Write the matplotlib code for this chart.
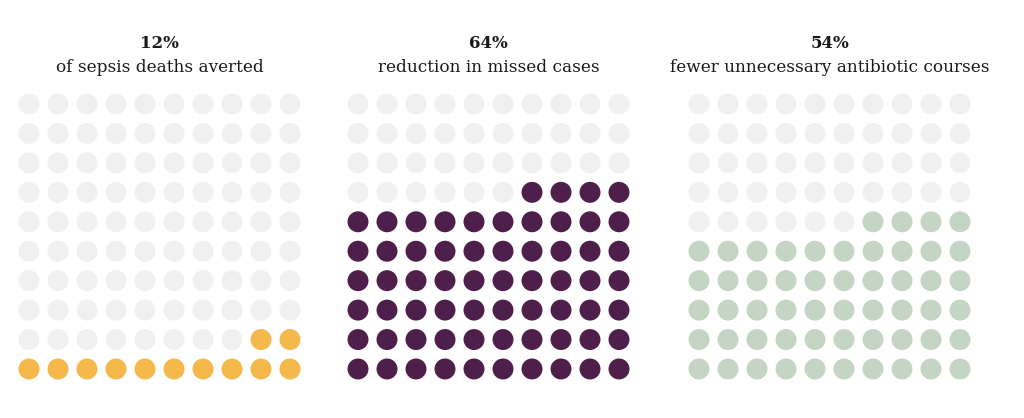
import numpy as np
import matplotlib.pyplot as plt

# waffle data
percents = [12, 64, 54]
titles = ["12%", "64%", "54%"]
subtitles = ["of sepsis deaths averted",
             "reduction in missed cases",
             "fewer unnecessary antibiotic courses"]
colors = ["#f5b84b", "#4f1f4b", "#c4d5c3"]
empty_color = "#f0f0f0"

plt.rcParams['font.family'] = ['DejaVu Serif']

W, H = 1024, 418
fig = plt.figure(figsize=(W / 100, H / 100), dpi=100)

lefts = [14.5, 343.5, 684.5]  # pixel left edge of each grid
aw = 290.0
ab = 383.7
ah = 294.4

for k in range(3):
  ax = fig.add_axes([lefts[k] / W, 1 - ab / H, aw / W, ah / H])
  idx = np.arange(100)
  row = idx // 10
  col = 9 - idx % 10
  filled = idx < percents[k]
  cols = [colors[k] if f else empty_color for f in filled]
  ax.scatter(col, row, s=228, c=cols, linewidths=0)
  ax.set_xlim(-0.5, 9.5)
  ax.set_ylim(-0.5, 9.5)
  ax.axis('off')

  cx = (lefts[k] + aw / 2) / W
  fig.text(cx, 1 - 43 / H, titles[k], ha='center', va='center',
           fontsize=12, fontweight='bold', color='#1a1a1a')
  fig.text(cx, 1 - 68 / H, subtitles[k], ha='center', va='center',
           fontsize=12.2, color='#1a1a1a')

fig.savefig("out.png", dpi=100)
